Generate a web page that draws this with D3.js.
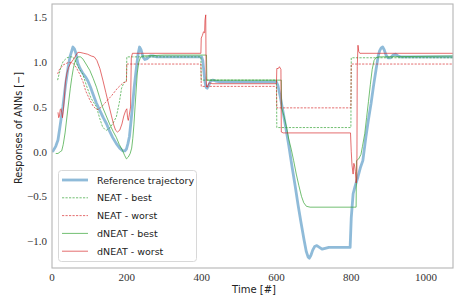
<!DOCTYPE html>
<html>
<head>
<meta charset="utf-8">
<script src="https://cdn.jsdelivr.net/npm/d3@7"></script>
<style>
  body { margin: 0; background: #fff; }
  svg { display: block; }
  .tick-label { font-family: "Liberation Serif", serif; font-size: 11px; fill: #333; }
  .axis-title { font-family: "DejaVu Sans", sans-serif; font-size: 10px; fill: #222; }
  .legend-text { font-family: "DejaVu Sans", sans-serif; font-size: 9.5px; fill: #222; }
</style>
</head>
<body>
<svg id="chart" width="454" height="301"></svg>
<script>
// series as [time, response] pairs
const reference = [
  [0, 0.0], [3, 0.01], [10, 0.06], [16, 0.13], [22, 0.3], [29, 0.5], [36, 0.74], [43, 0.94], [48, 1.06],
  [53, 1.13], [56, 1.17], [60, 1.15], [64, 1.1], [69, 0.99], [75, 0.93], [82, 0.88], [89, 0.84],
  [96, 0.79], [103, 0.72], [109, 0.65], [118, 0.55], [128, 0.46], [137, 0.38], [146, 0.31],
  [154, 0.23], [162, 0.16], [172, 0.09], [181, 0.04], [189, 0.01], [195, 0.01], [199, 0.03],
  [203, 0.09], [207, 0.17], [211, 0.33], [215, 0.5], [220, 0.73], [226, 0.95], [230, 1.09],
  [234, 1.17], [238, 1.14], [243, 1.06], [248, 1.03], [254, 1.04], [262, 1.07], [270, 1.07],
  [280, 1.06], [300, 1.06], [400, 1.06], [403, 1.02], [406, 0.9], [409, 0.78], [412, 0.72],
  [415, 0.71], [419, 0.74], [424, 0.79], [430, 0.8], [437, 0.79], [450, 0.78], [600, 0.78],
  [604, 0.74], [610, 0.62], [617, 0.46], [625, 0.27], [633, 0.07], [641, -0.15], [650, -0.38],
  [658, -0.6], [666, -0.8], [674, -0.99], [680, -1.12], [685, -1.18], [688, -1.19], [692, -1.16],
  [697, -1.1], [702, -1.06], [708, -1.05], [715, -1.07], [722, -1.09], [730, -1.08], [740, -1.07],
  [797, -1.07], [800, -0.74], [805, -0.47], [810, -0.39], [818, -0.28], [825, -0.17], [831, -0.1],
  [839, 0.16], [846, 0.36], [853, 0.54], [860, 0.75], [866, 0.91], [872, 1.07], [876, 1.13],
  [880, 1.16], [884, 1.17], [888, 1.14], [893, 1.08], [898, 1.05], [905, 1.05], [912, 1.08],
  [918, 1.09], [925, 1.07], [932, 1.06], [945, 1.06], [1075, 1.06]
];

const neatBest = [
  [15, 0.8], [19, 0.87], [24, 0.95], [30, 1.01], [40, 1.05], [50, 1.06], [56, 1.06], [64, 1.0],
  [72, 0.93], [82, 0.87], [92, 0.74], [104, 0.6], [119, 0.5], [127, 0.38], [135, 0.28],
  [141, 0.25], [146, 0.24], [153, 0.26], [162, 0.31], [172, 0.39], [180, 0.55], [186, 0.71],
  [192, 0.77], [199, 0.8], [200, 1.06], [398, 1.06], [399, 0.8], [600, 0.8], [601, 0.27],
  [799, 0.27], [800, 1.05], [1075, 1.05]
];

const neatWorst = [
  [15, 0.87], [20, 0.92], [30, 0.97], [45, 1.0], [56, 0.99], [65, 0.94], [75, 0.86], [83, 0.78],
  [90, 0.68], [101, 0.58], [110, 0.51], [117, 0.48], [123, 0.47], [132, 0.5], [145, 0.56],
  [160, 0.63], [175, 0.71], [190, 0.77], [199, 0.78], [200, 0.98], [398, 0.98], [399, 0.73],
  [600, 0.73], [601, 0.49], [799, 0.49], [800, 0.98], [1075, 0.98]
];

const dneatBest = [
  [10, -0.02], [16, -0.02], [22, 0.0], [26, 0.01], [30, 0.08], [35, 0.21], [43, 0.5], [49, 0.71],
  [53, 0.83], [57, 0.93], [61, 1.0], [65, 1.04], [69, 1.06], [76, 1.06], [82, 1.04], [91, 0.98],
  [101, 0.91], [110, 0.82], [119, 0.72], [127, 0.61], [135, 0.5], [145, 0.4], [154, 0.31],
  [163, 0.23], [172, 0.16], [180, 0.08], [189, 0.01], [194, -0.04], [199, -0.08], [204, -0.06],
  [209, -0.02], [213, 0.04], [216, 0.15], [219, 0.3], [222, 0.5], [225, 0.69], [228, 0.88],
  [232, 1.0], [236, 1.05], [242, 1.07], [300, 1.08], [413, 1.08], [414, 0.8], [613, 0.8],
  [614, 0.49], [620, 0.4], [627, 0.27], [633, 0.14], [640, 0.02], [646, -0.1], [653, -0.25],
  [660, -0.38], [667, -0.5], [673, -0.57], [680, -0.61], [690, -0.62], [813, -0.62], [814, -0.1],
  [820, -0.08], [826, -0.03], [830, 0.06], [836, 0.2], [841, 0.38], [846, 0.56], [851, 0.75],
  [856, 0.92], [861, 1.02], [866, 1.05], [872, 1.06], [1075, 1.07]
];

const dneatWorst = [
  [16, 0.44], [18, 0.38], [20, 0.4], [22, 0.47], [24, 0.48], [26, 0.44], [28, 0.38], [30, 0.45],
  [33, 0.6], [36, 0.78], [40, 0.88], [44, 0.94], [50, 0.99], [57, 1.03], [63, 1.07], [69, 1.11],
  [75, 1.11], [85, 1.1], [95, 1.09], [105, 1.07], [113, 1.06], [120, 1.02], [128, 0.93],
  [136, 0.8], [144, 0.66], [152, 0.52], [159, 0.4], [165, 0.3], [170, 0.24], [175, 0.22],
  [181, 0.24], [187, 0.31], [192, 0.4], [197, 0.46], [200, 0.48], [202, 0.38], [204, 0.35],
  [207, 0.42], [210, 0.5], [212, 1.05], [215, 1.1], [398, 1.1], [399, 1.27], [402, 1.3],
  [405, 1.34], [408, 1.33], [409, 1.47], [411, 1.53], [412, 0.85], [413, 0.73], [415, 0.72],
  [420, 0.77], [430, 0.76], [600, 0.76], [601, 0.93], [605, 0.93], [608, 0.95], [612, 0.92],
  [613, 0.22], [618, 0.21], [798, 0.21], [800, 0.0], [802, -0.15], [805, -0.25], [807, -0.13],
  [809, -0.16], [811, -0.22], [813, -0.35], [815, -0.3], [816, 0.95], [818, 1.19], [820, 1.12],
  [823, 1.1], [1075, 1.1]
];

const xTicks = [0, 200, 400, 600, 800, 1000];
const yTicks = [-1.0, -0.5, 0.0, 0.5, 1.0, 1.5];

const legendItems = [
  { label: "Reference trajectory", key: "ref" },
  { label: "NEAT - best", key: "nb" },
  { label: "NEAT - worst", key: "nw" },
  { label: "dNEAT - best", key: "db" },
  { label: "dNEAT - worst", key: "dw" }
];

const styles = {
  ref: { color: "#1f77b4", width: 2.8, opacity: 0.5, dash: null },
  nb: { color: "#2ca02c", width: 0.9, opacity: 0.75, dash: "2.2,1.3" },
  nw: { color: "#d62728", width: 0.9, opacity: 0.75, dash: "2.2,1.3" },
  db: { color: "#2ca02c", width: 0.9, opacity: 0.75, dash: null },
  dw: { color: "#d62728", width: 0.9, opacity: 0.75, dash: null }
};

const svg = d3.select("#chart");
const plotLeft = 52, plotRight = 453, plotTop = 4, plotBottom = 268;

const x = d3.scaleLinear().domain([0, 1072]).range([plotLeft, plotRight]);
const y = d3.scaleLinear().domain([-1.3, 1.65]).range([plotBottom, plotTop + 0.1]);

svg.append("defs").append("clipPath").attr("id", "plot-clip")
  .append("rect")
  .attr("x", plotLeft).attr("y", plotTop)
  .attr("width", plotRight - plotLeft).attr("height", plotBottom - plotTop);

const line = d3.line()
  .x((d) => x(d[0]))
  .y((d) => y(d[1]));

const plot = svg.append("g").attr("clip-path", "url(#plot-clip)");

const series = [
  { key: "ref", data: reference },
  { key: "nb", data: neatBest },
  { key: "nw", data: neatWorst },
  { key: "db", data: dneatBest },
  { key: "dw", data: dneatWorst }
];

series.forEach((s) => {
  const st = styles[s.key];
  plot.append("path")
    .datum(s.data)
    .attr("fill", "none")
    .attr("stroke", st.color)
    .attr("stroke-opacity", st.opacity)
    .attr("stroke-width", st.width)
    .attr("stroke-linejoin", "round")
    .attr("stroke-dasharray", st.dash)
    .attr("d", line);
});

// frame
svg.append("rect")
  .attr("x", plotLeft).attr("y", plotTop)
  .attr("width", plotRight - plotLeft).attr("height", plotBottom - plotTop)
  .attr("fill", "none")
  .attr("stroke", "#b5b5b5")
  .attr("stroke-width", 1.1);

// tick labels
svg.selectAll(".xt")
  .data(xTicks)
  .join("text")
  .attr("class", "tick-label")
  .attr("x", (d) => x(d))
  .attr("y", 281)
  .attr("text-anchor", "middle")
  .text((d) => d);

svg.selectAll(".yt")
  .data(yTicks)
  .join("text")
  .attr("class", "tick-label")
  .attr("x", 47)
  .attr("y", (d) => y(d) + 3.8)
  .attr("text-anchor", "end")
  .text((d) => d3.format(".1f")(d).replace("-", "\u2212"));

svg.append("text")
  .attr("class", "axis-title")
  .attr("x", 254)
  .attr("y", 293)
  .attr("text-anchor", "middle")
  .text("Time [#]");

svg.append("text")
  .attr("class", "axis-title")
  .attr("transform", "translate(21.5,128) rotate(-90)")
  .attr("text-anchor", "middle")
  .style("font-size", "9.7px")
  .text("Responses of ANNs [\u2212]");

// legend
const legend = svg.append("g");
legend.append("rect")
  .attr("x", 58.5).attr("y", 170.5)
  .attr("width", 138).attr("height", 91)
  .attr("rx", 3)
  .attr("fill", "#fff")
  .attr("fill-opacity", 0.85)
  .attr("stroke", "#d8d8d8");

const rows = legend.selectAll(".row")
  .data(legendItems)
  .join("g")
  .attr("transform", (d, i) => `translate(0,${180 + i * 17.8})`);

rows.append("line")
  .attr("x1", 62).attr("x2", 88)
  .attr("y1", 0).attr("y2", 0)
  .attr("stroke", (d) => styles[d.key].color)
  .attr("stroke-opacity", (d) => styles[d.key].opacity)
  .attr("stroke-width", (d) => styles[d.key].width)
  .attr("stroke-dasharray", (d) => styles[d.key].dash);

rows.append("text")
  .attr("class", "legend-text")
  .attr("x", 97)
  .attr("y", 3.5)
  .text((d) => d.label);
</script>
</body>
</html>
